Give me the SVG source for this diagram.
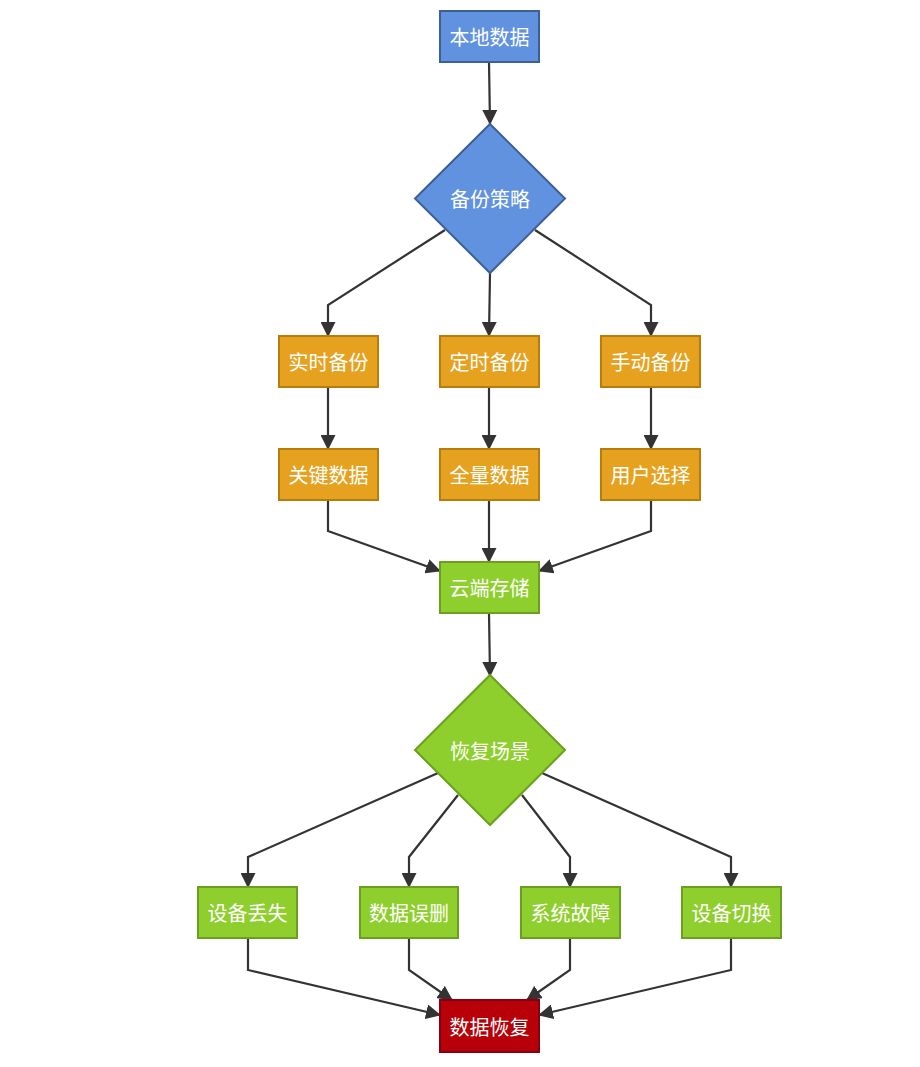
<svg xmlns="http://www.w3.org/2000/svg" width="920" height="1067" viewBox="0 0 920 1067">
<style>
.blue{fill:#6192e0;stroke:#3d5f96;stroke-width:2}
.orange{fill:#e6a21f;stroke:#b67d0c;stroke-width:2}
.green{fill:#8fcf2d;stroke:#6c9e1f;stroke-width:2}
.red{fill:#b70008;stroke:#870010;stroke-width:2}
.t{font-family:"Noto Sans CJK SC","Liberation Sans",sans-serif;font-size:20px;fill:#ffffff;text-anchor:middle;dominant-baseline:central}
.e{fill:none;stroke:#333333;stroke-width:2.2;marker-end:url(#arr)}
</style>
<defs>
<marker id="arr" viewBox="0 0 15 15" refX="14" refY="7.5" markerWidth="15" markerHeight="15" markerUnits="userSpaceOnUse" orient="auto">
<path d="M0,0 L15,7.5 L0,15 z" fill="#333333"/>
</marker>
</defs>
<rect width="920" height="1067" fill="#ffffff"/>
<g id="connectors">
<path class="e" d="M489,62 L490,124"/>
<path class="e" d="M445,230 L328,305 L328,336"/>
<path class="e" d="M490,273 L489,336"/>
<path class="e" d="M535,230 L651,305 L651,336"/>
<path class="e" d="M328,387 L328,449"/>
<path class="e" d="M489,387 L489,449"/>
<path class="e" d="M651,387 L651,449"/>
<path class="e" d="M328,500 L328,531 L440,571"/>
<path class="e" d="M489,500 L489,562"/>
<path class="e" d="M651,500 L651,531 L539,571"/>
<path class="e" d="M489,613 L490,676"/>
<path class="e" d="M438,773 L248,857 L248,887"/>
<path class="e" d="M458,795 L409,857 L409,887"/>
<path class="e" d="M522,795 L570,857 L570,887"/>
<path class="e" d="M542,773 L731,857 L731,887"/>
<path class="e" d="M248,938 L248,970 L440,1015"/>
<path class="e" d="M409,938 L409,970 L452,1000"/>
<path class="e" d="M570,938 L570,970 L527,1000"/>
<path class="e" d="M731,938 L731,970 L539,1015"/>
</g>
<g id="n_local"><rect class="blue" x="440" y="11" width="99" height="51"/><text class="t" x="489.5" y="36.5">本地数据</text></g>
<g id="n_strategy"><polygon class="blue" points="490,124 565,198.5 490,273 415,198.5"/><text class="t" x="490" y="198.5">备份策略</text></g>
<g id="n_realtime"><rect class="orange" x="279" y="336" width="99" height="51"/><text class="t" x="328.5" y="361.5">实时备份</text></g>
<g id="n_scheduled"><rect class="orange" x="440" y="336" width="99" height="51"/><text class="t" x="489.5" y="361.5">定时备份</text></g>
<g id="n_manual"><rect class="orange" x="601" y="336" width="99" height="51"/><text class="t" x="650.5" y="361.5">手动备份</text></g>
<g id="n_key"><rect class="orange" x="279" y="449" width="99" height="51"/><text class="t" x="328.5" y="474.5">关键数据</text></g>
<g id="n_full"><rect class="orange" x="440" y="449" width="99" height="51"/><text class="t" x="489.5" y="474.5">全量数据</text></g>
<g id="n_user"><rect class="orange" x="601" y="449" width="99" height="51"/><text class="t" x="650.5" y="474.5">用户选择</text></g>
<g id="n_cloud"><rect class="green" x="440" y="562" width="99" height="51"/><text class="t" x="489.5" y="587.5">云端存储</text></g>
<g id="n_scene"><polygon class="green" points="490,675 565,750 490,825 415,750"/><text class="t" x="490" y="750">恢复场景</text></g>
<g id="n_lost"><rect class="green" x="198" y="887" width="99" height="51"/><text class="t" x="247.5" y="912.5">设备丢失</text></g>
<g id="n_deleted"><rect class="green" x="360" y="887" width="98" height="51"/><text class="t" x="409" y="912.5">数据误删</text></g>
<g id="n_failure"><rect class="green" x="521" y="887" width="99" height="51"/><text class="t" x="570.5" y="912.5">系统故障</text></g>
<g id="n_switch"><rect class="green" x="682" y="887" width="99" height="51"/><text class="t" x="731.5" y="912.5">设备切换</text></g>
<g id="n_recover"><rect class="red" x="440" y="1000" width="99" height="52"/><text class="t" x="489.5" y="1026">数据恢复</text></g>
</svg>
